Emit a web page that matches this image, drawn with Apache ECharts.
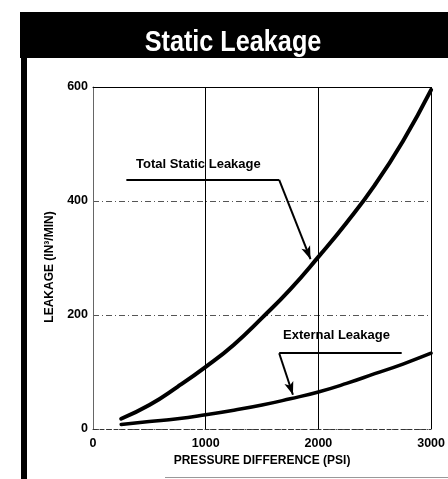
<!DOCTYPE html>
<html>
<head>
<meta charset="utf-8">
<script src="https://cdn.jsdelivr.net/npm/echarts@6/dist/echarts.min.js"></script>
<style>
  html, body { margin: 0; padding: 0; background: #fff; }
  #main { width: 448px; height: 479px; }
</style>
</head>
<body>
<div id="main"></div>
<script>
// 静态泄漏曲线
var pressure = [250, 500, 750, 1000, 1250, 1500, 1750, 2000, 2250, 2500, 2750, 3000];
var totalLeak = [18, 42, 74, 109, 148, 195, 245, 302, 362, 428, 505, 595];
var externalLeak = [8, 13, 18, 25, 33, 42, 53, 65, 80, 97, 114, 133];
var xTicks = [0, 1000, 2000, 3000];
var yTicks = [0, 200, 400, 600];

// 指引线 (数据坐标)
var totalLeader = [[296, 437], [1652, 437], [1930, 298]];
var externalLeader = [[2739, 133], [1652, 133], [1774, 60]];

var font = 'Liberation Sans, Arial, sans-serif';

function pairs(arr) {
  return arr.map(function (v, i) { return [pressure[i], v]; });
}

function leader(pts) {
  return [
    [{ coord: pts[0], symbol: 'none' }, { coord: pts[1], symbol: 'none' }],
    [{ coord: pts[1], symbol: 'none' }, { coord: pts[2], symbol: 'arrow', symbolSize: [7, 13] }]
  ];
}

var mychart = echarts.init(document.getElementById('main'));

var option = {
  animation: false,
  backgroundColor: '#fff',
  graphic: [
    { type: 'rect', shape: { x: 20, y: 12, width: 428, height: 46 }, style: { fill: '#000' } },
    { type: 'rect', shape: { x: 21, y: 56, width: 6, height: 423 }, style: { fill: '#000' } },
    {
      type: 'text', x: 233, y: 43, scaleX: 0.87, originX: 0,
      style: {
        text: 'Static Leakage', fill: '#fff', align: 'center', verticalAlign: 'middle',
        font: 'bold 29px "Liberation Sans", sans-serif'
      }
    },
    { type: 'line', shape: { x1: 165, y1: 477.5, x2: 448, y2: 477.5 }, style: { stroke: '#999', lineWidth: 1 } },
    {
      type: 'text', x: 136, y: 158,
      style: { text: 'Total Static Leakage', fill: '#000', font: 'bold 13px ' + font, letterSpacing: 0.8 }
    },
    {
      type: 'text', x: 283, y: 329,
      style: { text: 'External Leakage', fill: '#000', font: 'bold 13px ' + font, letterSpacing: 0.6 }
    }
  ],
  grid: { left: 93, right: 10, top: 87, bottom: 50 },
  xAxis: [
    {
      type: 'value', min: xTicks[0], max: xTicks[xTicks.length - 1], interval: 1000,
      name: 'PRESSURE DIFFERENCE (PSI)', nameLocation: 'middle', nameGap: 24,
      nameTextStyle: { fontFamily: font, fontWeight: 'bold', fontSize: 12, color: '#000' },
      axisLine: { lineStyle: { color: '#333', width: 1, type: [4, 3] } },
      axisTick: { show: false },
      axisLabel: {
        fontFamily: font, fontWeight: 'bold', fontSize: 12.5, color: '#000', margin: 8,
        formatter: function (v) { return String(v); }
      },
      splitLine: { show: true, lineStyle: { color: '#000', width: 1 } }
    },
    {
      type: 'value', position: 'top', min: 0, max: 3000,
      axisLine: { show: true, lineStyle: { color: '#000', width: 1 } },
      axisTick: { show: false }, axisLabel: { show: false }, splitLine: { show: false }
    }
  ],
  yAxis: {
    type: 'value', min: yTicks[0], max: yTicks[yTicks.length - 1], interval: 200,
    name: 'LEAKAGE (IN³/MIN)', nameLocation: 'middle', nameGap: 37, nameRotate: 90,
    nameTextStyle: { fontFamily: font, fontWeight: 'bold', fontSize: 12, color: '#000', padding: [0, 18, 0, 0] },
    axisLine: { show: true, lineStyle: { color: '#666', width: 1 } },
    axisTick: { show: false },
    axisLabel: {
      fontFamily: font, fontWeight: 'bold', fontSize: 12.5, color: '#000', margin: 5,
      formatter: function (v) { return String(v); }
    },
    splitLine: { show: true, lineStyle: { color: '#555', width: 1, type: [6, 3, 1, 3] } }
  },
  series: [
    {
      name: 'Total Static Leakage', type: 'line', smooth: true, showSymbol: false,
      data: pairs(totalLeak),
      lineStyle: { color: '#000', width: 4, cap: 'round' },
      markLine: {
        silent: true, animation: false,
        label: { show: false },
        lineStyle: { color: '#000', width: 2, type: 'solid' },
        data: leader(totalLeader)
      }
    },
    {
      name: 'External Leakage', type: 'line', smooth: true, showSymbol: false,
      data: pairs(externalLeak),
      lineStyle: { color: '#000', width: 3.5, cap: 'round' },
      markLine: {
        silent: true, animation: false,
        label: { show: false },
        lineStyle: { color: '#000', width: 2, type: 'solid' },
        data: leader(externalLeader)
      }
    }
  ]
};

mychart.setOption(option);
</script>
</body>
</html>
